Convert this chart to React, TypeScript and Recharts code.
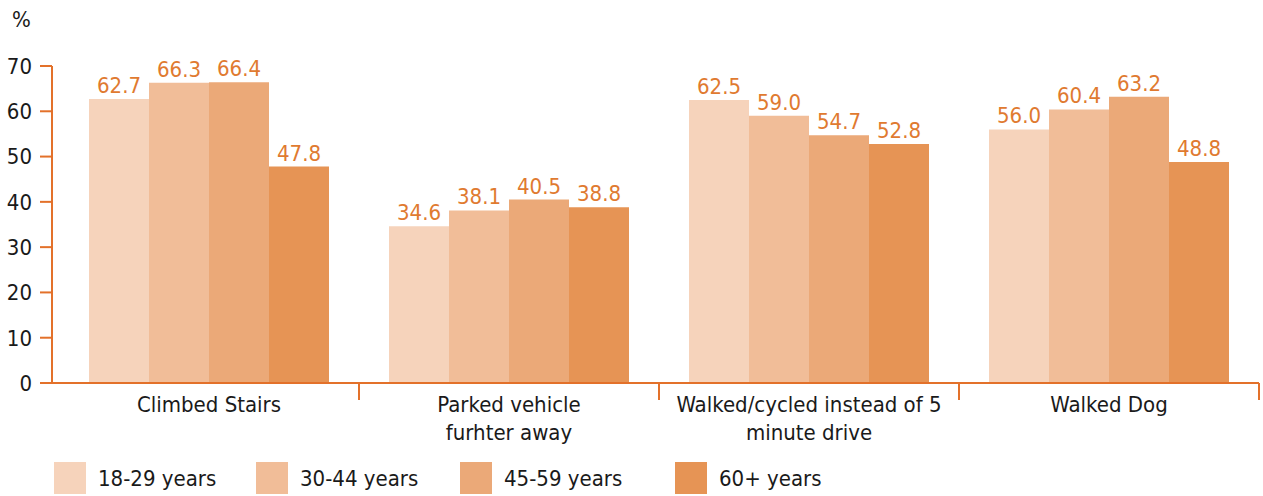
import { Bar, BarChart, LabelList, Legend, Text, XAxis, YAxis } from "recharts";

const categories = [
  "Climbed Stairs",
  "Parked vehicle\nfurhter away",
  "Walked/cycled instead of 5\nminute drive",
  "Walked Dog",
];
const age18to29 = [62.7, 34.6, 62.5, 56.0];
const age30to44 = [66.3, 38.1, 59.0, 60.4];
const age45to59 = [66.4, 40.5, 54.7, 63.2];
const age60plus = [47.8, 38.8, 52.8, 48.8];
const yTicks = [0, 10, 20, 30, 40, 50, 60, 70];

const series = [
  { key: "a", name: "18-29 years", values: age18to29, color: "#F6D3BB" },
  { key: "b", name: "30-44 years", values: age30to44, color: "#F1BD98" },
  { key: "c", name: "45-59 years", values: age45to59, color: "#EBA978" },
  { key: "d", name: "60+ years", values: age60plus, color: "#E69455" },
];

const data = categories.map((c, i) => {
  const row: Record<string, string | number> = { name: c };
  series.forEach((s) => (row[s.key] = s.values[i]));
  return row;
});

const FONT = "'Liberation Sans Narrow', 'DejaVu Sans Condensed', Roboto, sans-serif";
const FS = 22;
const AXIS = "#E3712A";
const LABEL = "#E07A30";
const BAND = 300;

function CategoryTick(props: any) {
  const { x, y, payload } = props;
  const lines = String(payload.value).split("\n");
  return (
    <g>
      <line x1={x + BAND / 2} x2={x + BAND / 2} y1={y - 8} y2={y + 9} stroke={AXIS} strokeWidth={2} />
      {lines.map((l, i) => (
        <Text
          key={i}
          x={x}
          y={y + 13 + i * 28}
          textAnchor="middle"
          verticalAnchor="middle"
          fontSize={FS}
          fill="#1a1a1a"
          fontFamily={FONT}
        >
          {l}
        </Text>
      ))}
    </g>
  );
}

function LegendContent() {
  const lefts = [54, 256, 460, 675];
  return (
    <div style={{ position: "relative", height: 34, fontFamily: FONT }}>
      {series.map((s) => s).map((s, i) => (
        <div
          key={s.key}
          style={{ position: "absolute", left: lefts[i], top: 0, display: "flex", alignItems: "center" }}
        >
          <span style={{ width: 32, height: 32, background: s.color, display: "inline-block" }} />
          <span style={{ marginLeft: 12, fontSize: FS, color: "#1a1a1a" }}>{s.name}</span>
        </div>
      ))}
    </div>
  );
}

export default function App() {
  return (
    <div style={{ position: "absolute", left: 0, top: 0, width: 1263, height: 496, background: "#fff" }}>
      <div style={{ position: "absolute", left: 12, top: 7, fontSize: FS, fontFamily: FONT, color: "#1a1a1a" }}>%</div>
      <BarChart
        width={1263}
        height={496}
        data={data}
        margin={{ top: 66, right: 4, left: 0, bottom: 0 }}
        barGap={0}
        barCategoryGap="10%"
      >
        <XAxis
          dataKey="name"
          tick={<CategoryTick />}
          tickLine={false}
          axisLine={{ stroke: AXIS, strokeWidth: 2 }}
          padding={{ left: 7, right: 0 }}
          interval={0}
          height={79}
        />
        <YAxis
          domain={[0, 70]}
          ticks={yTicks}
          width={52}
          tick={{ fontSize: FS, fill: "#1a1a1a", fontFamily: FONT, dx: -6 }}
          tickLine={{ stroke: AXIS, strokeWidth: 2 }}
          tickSize={12}
          axisLine={{ stroke: AXIS, strokeWidth: 2 }}
        />
        <Legend verticalAlign="bottom" content={<LegendContent />} wrapperStyle={{ bottom: 0, left: 0 }} />
        {series.map((s) => (
          <Bar key={s.key} dataKey={s.key} name={s.name} fill={s.color} isAnimationActive={false}>
            <LabelList
              dataKey={s.key}
              position="top"
              offset={6}
              formatter={(v: any) => Number(v).toFixed(1)}
              style={{ fontSize: FS, fill: LABEL, fontFamily: FONT }}
            />
          </Bar>
        ))}
      </BarChart>
    </div>
  );
}
